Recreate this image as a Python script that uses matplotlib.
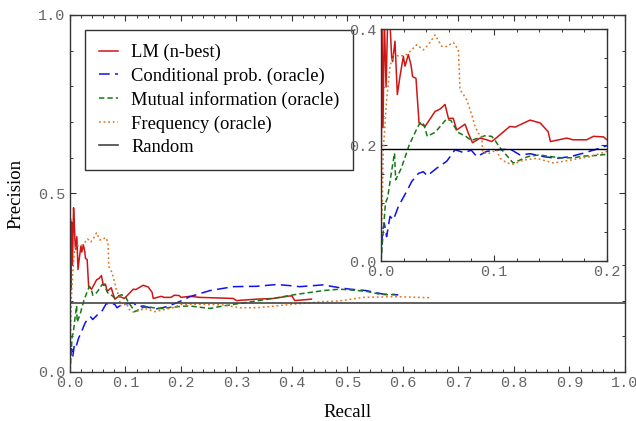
import numpy as np
import matplotlib
matplotlib.use("Agg")
import matplotlib.pyplot as plt
from matplotlib.ticker import MultipleLocator

# datos
lm_r = [0, 0.0008, 0.0018, 0.003, 0.0045, 0.0065, 0.008, 0.0095, 0.0103, 0.0124,
        0.0145, 0.0168, 0.0198, 0.0213, 0.0242, 0.0266, 0.028, 0.031, 0.0337, 0.039,
        0.0479, 0.0523, 0.0567, 0.0597, 0.064, 0.067, 0.0744, 0.0774, 0.081, 0.0877,
        0.0936, 0.098, 0.1025, 0.114, 0.1188, 0.132, 0.141, 0.148, 0.150, 0.1645,
        0.170, 0.182, 0.188, 0.197, 0.2, 0.216, 0.234, 0.294, 0.300, 0.336,
        0.366, 0.396, 0.400, 0.405, 0.435]
lm_p = [0, 0.43, 0.23, 0.42, 0.30, 0.46, 0.41, 0.35, 0.344, 0.379,
        0.287, 0.318, 0.353, 0.336, 0.356, 0.338, 0.318, 0.315, 0.238, 0.232,
        0.258, 0.262, 0.270, 0.246, 0.246, 0.226, 0.236, 0.220, 0.204, 0.212,
        0.209, 0.206, 0.213, 0.232, 0.231, 0.243, 0.238, 0.223, 0.206, 0.212,
        0.209, 0.209, 0.215, 0.214, 0.209, 0.212, 0.209, 0.206, 0.200, 0.204,
        0.206, 0.213, 0.213, 0.200, 0.204]

cp_r = [0, 0.0015, 0.003, 0.005, 0.008, 0.011, 0.0154, 0.0227, 0.0272, 0.0331,
        0.0375, 0.041, 0.0493, 0.0582, 0.0656, 0.073, 0.080, 0.0848, 0.0936, 0.1055,
        0.1143, 0.123, 0.132, 0.1439, 0.1557, 0.1675, 0.1793, 0.191, 0.2, 0.216,
        0.252, 0.294, 0.336, 0.372, 0.396, 0.414, 0.456, 0.486, 0.5045, 0.534,
        0.5646, 0.5916]
cp_p = [0, 0.054, 0.065, 0.042, 0.077, 0.071, 0.094, 0.120, 0.137, 0.151,
        0.154, 0.147, 0.160, 0.172, 0.192, 0.187, 0.191, 0.180, 0.189, 0.192,
        0.193, 0.183, 0.185, 0.180, 0.177, 0.180, 0.186, 0.193, 0.199, 0.211,
        0.228, 0.239, 0.240, 0.245, 0.242, 0.239, 0.244, 0.236, 0.232, 0.228,
        0.218, 0.216]

mi_r = [0, 0.002, 0.004, 0.006, 0.009, 0.012, 0.013, 0.018, 0.025, 0.031,
        0.035, 0.038, 0.041, 0.048, 0.055, 0.058, 0.062, 0.068, 0.075, 0.080,
        0.086, 0.092, 0.098, 0.101, 0.105, 0.110, 0.117, 0.13, 0.14, 0.15,
        0.16, 0.17, 0.18, 0.19, 0.2, 0.216, 0.252, 0.276, 0.306, 0.366,
        0.402, 0.456, 0.486, 0.5045, 0.534, 0.558, 0.576, 0.585]
mi_p = [0, 0.05, 0.10, 0.11, 0.15, 0.186, 0.14, 0.16, 0.20, 0.225,
        0.24, 0.235, 0.215, 0.222, 0.238, 0.245, 0.242, 0.222, 0.215, 0.208,
        0.212, 0.216, 0.215, 0.208, 0.196, 0.185, 0.169, 0.180, 0.183, 0.180,
        0.178, 0.178, 0.181, 0.182, 0.184, 0.185, 0.178, 0.185, 0.192, 0.206,
        0.216, 0.228, 0.232, 0.230, 0.226, 0.218, 0.216, 0.218]

fr_r = [0, 0.0012, 0.002, 0.005, 0.008, 0.0109, 0.0168, 0.0227, 0.0272, 0.0316,
        0.0375, 0.042, 0.0479, 0.0538, 0.0582, 0.0641, 0.0685, 0.070, 0.073, 0.0759,
        0.0804, 0.0833, 0.0863, 0.0892, 0.0901, 0.0966, 0.1025, 0.1055, 0.1114, 0.1173,
        0.126, 0.138, 0.1527, 0.1675, 0.185, 0.2, 0.216, 0.276, 0.306, 0.336,
        0.372, 0.402, 0.456, 0.486, 0.528, 0.588, 0.649]
fr_p = [0, 0.105, 0.19, 0.278, 0.335, 0.356, 0.353, 0.356, 0.364, 0.373,
        0.364, 0.373, 0.390, 0.370, 0.370, 0.377, 0.364, 0.295, 0.287, 0.278,
        0.252, 0.232, 0.220, 0.215, 0.186, 0.186, 0.192, 0.177, 0.169, 0.167,
        0.174, 0.177, 0.169, 0.174, 0.180, 0.189, 0.190, 0.188, 0.180, 0.180,
        0.185, 0.190, 0.197, 0.199, 0.209, 0.211, 0.208]

random_r = [0.0, 1.0]
random_p = [0.194, 0.194]

labels = ["LM (n-best)", "Conditional prob. (oracle)", "Mutual information (oracle)",
          "Frequency (oracle)", "Random"]

series = [
    (lm_r, lm_p, dict(color="#d01515", ls="-")),
    (cp_r, cp_p, dict(color="#1010f0", ls=(0, (7, 3.5)))),
    (mi_r, mi_p, dict(color="#157a15", ls=(0, (3.5, 2)))),
    (fr_r, fr_p, dict(color="#e0731e", ls=(0, (1.2, 1.8)))),
]

serif = "Liberation Serif"
mono = "Liberation Mono"
gris = "#666666"

fig = plt.figure(figsize=(6.36, 4.21), dpi=100)
ax = fig.add_axes([0.110, 0.1164, 0.8727, 0.848])

for (r, p, st), lab in zip(series, labels[:4]):
    ax.plot(r, p, lw=1.1, label=lab, **st)
ax.plot(random_r, random_p, color="#444444", lw=1.2, label=labels[4])

ax.set_xlim(0, 1)
ax.set_ylim(0, 1)

def estilo(a, xmaj, xmin, ymaj, ymin):
    a.xaxis.set_major_locator(MultipleLocator(xmaj))
    a.xaxis.set_minor_locator(MultipleLocator(xmin))
    a.yaxis.set_major_locator(MultipleLocator(ymaj))
    a.yaxis.set_minor_locator(MultipleLocator(ymin))
    a.xaxis.set_major_formatter(lambda v, pos: "%.1f" % v)
    a.yaxis.set_major_formatter(lambda v, pos: "%.1f" % v)
    a.tick_params(which="both", direction="in", top=True, right=True,
                  color="#333333", labelcolor=gris, labelsize=11)
    a.tick_params(which="major", length=4.5, width=0.8, pad=3)
    a.tick_params(which="minor", length=2.5, width=0.7)
    for t in a.get_xticklabels() + a.get_yticklabels():
        t.set_fontfamily(mono)
    for s in a.spines.values():
        s.set_color("#333333")
        s.set_linewidth(1.0)

estilo(ax, 0.1, 0.02, 0.5, 0.1)
ax.set_xlabel("Recall", fontfamily=serif, fontsize=13.5, labelpad=10)
ax.set_ylabel("Precision", fontfamily=serif, fontsize=13.5, labelpad=10)

leg = ax.legend(loc="upper left", bbox_to_anchor=(0.027, 0.958), borderaxespad=0,
                prop={"family": serif, "size": 13.3}, frameon=True, fancybox=False,
                handlelength=1.05, handletextpad=0.7, labelspacing=0.34,
                borderpad=0.75)
leg.get_frame().set_edgecolor("black")
leg.get_frame().set_linewidth(1.0)

# recuadro ampliado
ins = fig.add_axes([0.599, 0.380, 0.3553, 0.551])
for r, p, st in series:
    ins.plot(r, p, lw=1.1, **st)
ins.plot(random_r, random_p, color="black", lw=1.0)
ins.set_xlim(0, 0.2)
ins.set_ylim(0, 0.4)
estilo(ins, 0.1, 0.02, 0.2, 0.05)

fig.savefig("out.png", dpi=100)
